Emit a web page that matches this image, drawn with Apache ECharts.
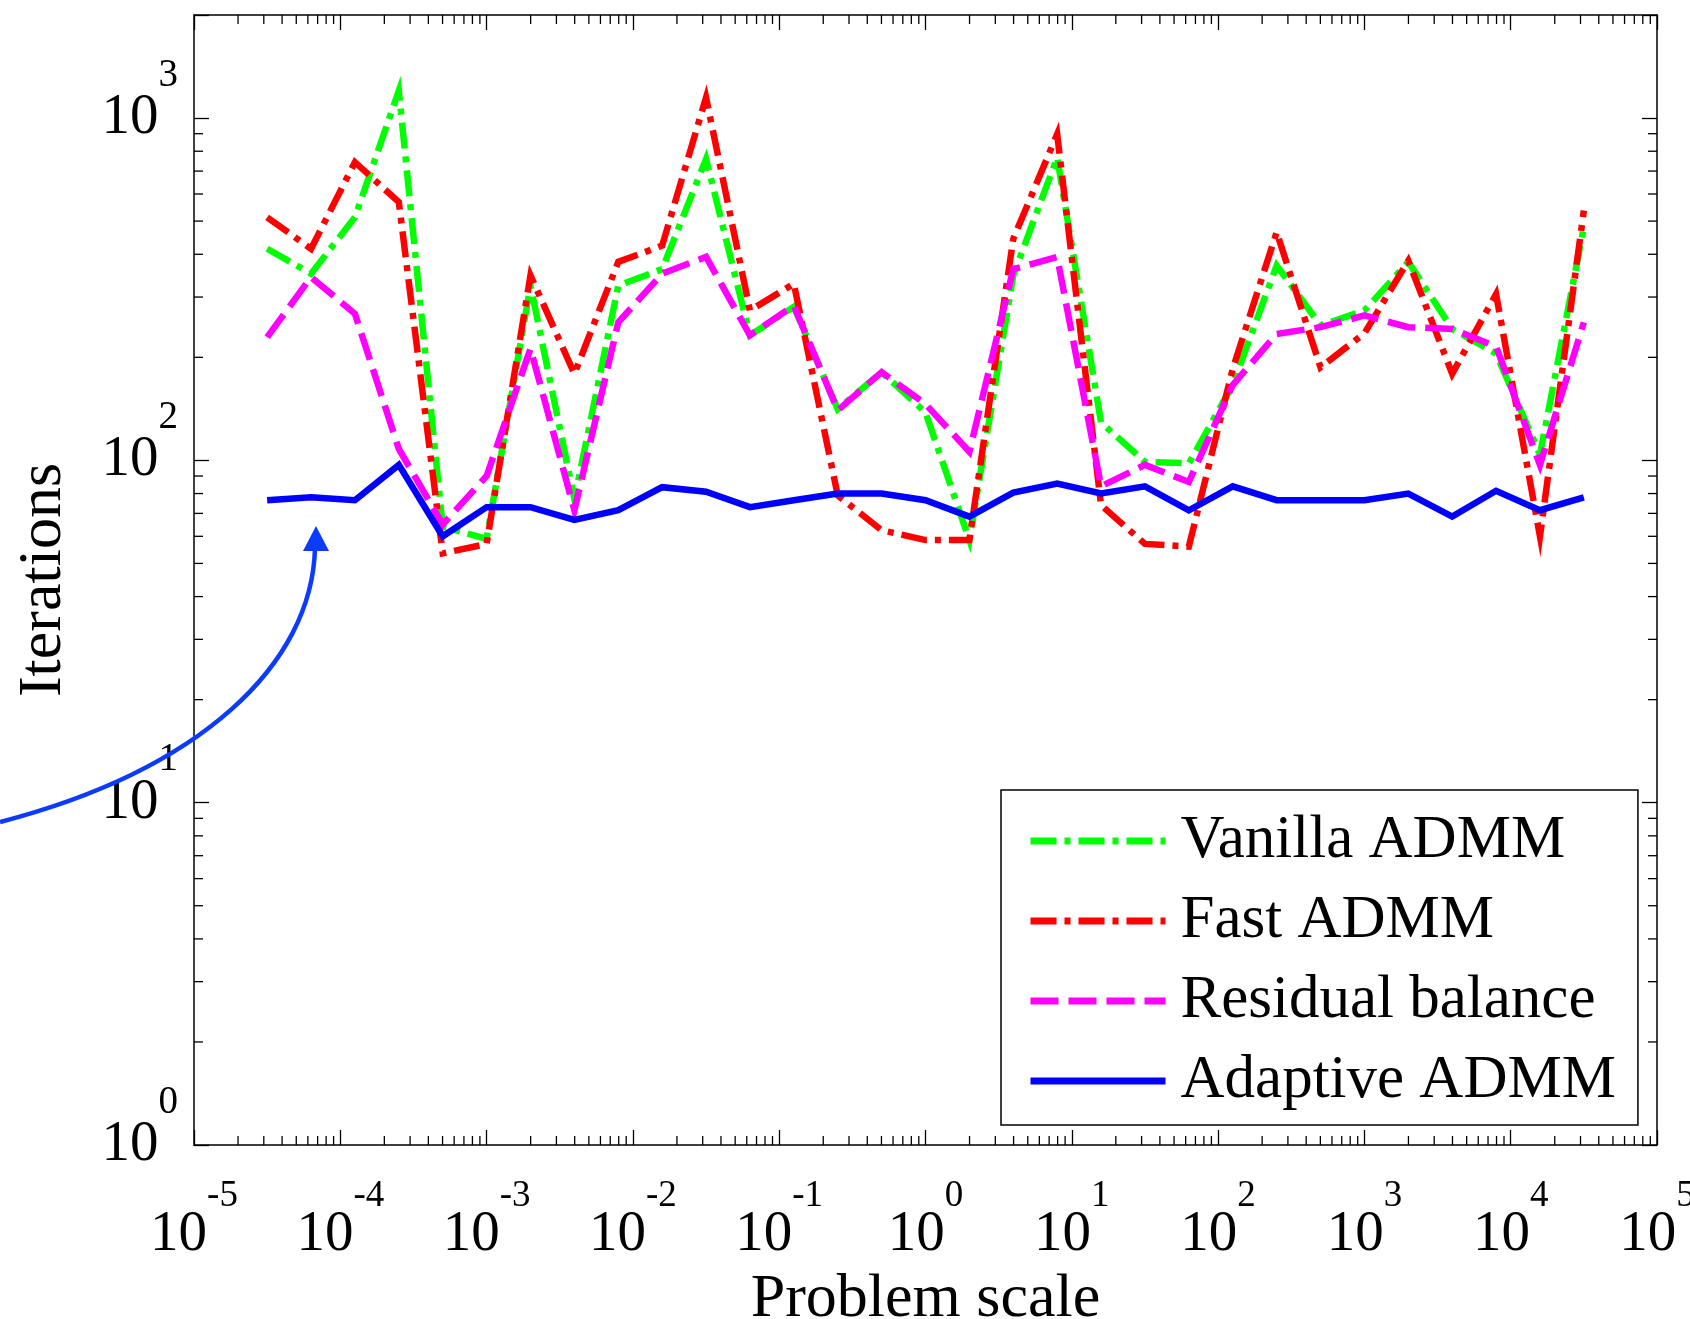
<!DOCTYPE html>
<html>
<head>
<meta charset="utf-8">
<script src="https://cdn.jsdelivr.net/npm/echarts@6/dist/echarts.min.js"></script>
<style>
  html, body { margin: 0; padding: 0; background: #fff; }
  #main { width: 1690px; height: 1319px; }
</style>
</head>
<body>
<div id="main"></div>
<script>
// problem scale of each run (x axis, log)
var scales = [3.162e-5, 6.310e-5, 1.259e-4, 2.512e-4, 5.012e-4, 1.0e-3, 1.995e-3, 3.981e-3,
  7.943e-3, 1.585e-2, 3.162e-2, 6.310e-2, 0.1259, 0.2512, 0.5012, 1.0, 1.995, 3.981, 7.943,
  15.85, 31.62, 63.10, 125.9, 251.2, 501.2, 1000, 1995, 3981, 7943, 15850, 31620];

// iterations per method
var vanilla = [415, 351, 513, 1202, 64, 59, 324, 77, 324, 362, 759, 232, 281, 141, 181, 138,
  58.5, 347, 767, 129, 99, 98, 166, 371, 248, 274, 380, 242, 205, 104, 480];
var fast = [513, 415, 743, 568, 53.5, 57, 347, 179, 380, 424, 1148, 274, 328, 79, 62.5, 58.5,
  58.5, 444, 897, 74, 57, 56, 185, 464, 187, 235, 383, 179, 306, 60, 537];
var residual = [229, 343, 268, 108, 65, 90, 212, 71.5, 253, 351, 393, 232, 283, 140, 181, 146,
  106, 362, 393, 84, 97, 86.5, 166, 234, 245, 265, 245, 242, 215, 97, 253];
var adaptive = [76.5, 78, 76.5, 97, 60, 73, 73, 67, 71.5, 83.5, 81, 73, 76.5, 80, 80, 76.5,
  68.5, 80.5, 85.5, 80, 84, 71.5, 84, 76.5, 76.5, 76.5, 80, 68.5, 81.5, 71.5, 78];

var names = ['Vanilla ADMM', 'Fast ADMM', 'Residual balance', 'Adaptive ADMM'];

// axis ranges and log minor tick steps
var xRange = [1e-5, 1e5];
var yRange = [1, 2000];
var minorSteps = [2, 3, 4, 5, 6, 7, 8, 9];
var xDecades = [-5, -4, -3, -2, -1, 0, 1, 2, 3, 4];
var yDecades = [0, 1, 2, 3];

var FONT = 'Liberation Serif';

function pairs(ys) {
  return scales.map(function (x, i) { return [x, ys[i]]; });
}

var xMinor = [];
xDecades.forEach(function (d) {
  minorSteps.forEach(function (m) { xMinor.push([m * Math.pow(10, d), yRange[0]]); });
});
var yMinor = [];
yDecades.forEach(function (d) {
  minorSteps.forEach(function (m) {
    var v = m * Math.pow(10, d);
    if (v < yRange[1]) yMinor.push([xRange[0], v]);
  });
});

function powLabel(v) {
  var l = Math.log10(v);
  var e = Math.round(l);
  if (Math.abs(l - e) > 1e-6) return '';
  return '{b|10}{e|' + e + '}';
}

var tickStyle = { stroke: '#000', lineWidth: 1.3 };
var MINOR = 9;

var myChart = echarts.init(document.getElementById('main'), null, { renderer: 'canvas' });

var option = {
  animation: false,
  backgroundColor: '#fff',
  grid: { left: 194, right: 33, top: 15, bottom: 174, containLabel: false, outerBoundsMode: 'none' },
  xAxis: [
    {
      type: 'log', logBase: 10, min: xRange[0], max: xRange[1], interval: 1,
      position: 'bottom',
      name: 'Problem scale', nameLocation: 'middle', nameGap: 86,
      nameTextStyle: { fontFamily: FONT, fontSize: 62, color: '#000' },
      axisLine: { show: true, lineStyle: { color: '#000', width: 1.5 } },
      axisTick: { show: true, inside: true, length: 15, lineStyle: { color: '#000', width: 1.3 } },
      splitLine: { show: false },
      axisLabel: {
        margin: 33, formatter: powLabel, color: '#000',
        rich: {
          // both tokens are as tall as the line, so the exponent sits above the base
          b: { fontFamily: FONT, fontSize: 57, color: '#000', padding: [29, 0, 0, 0] },
          e: { fontFamily: FONT, fontSize: 37, color: '#000', padding: [0, 0, 49, 0] }
        }
      }
    },
    {
      type: 'log', logBase: 10, min: xRange[0], max: xRange[1], interval: 1,
      position: 'top',
      axisLine: { show: true, lineStyle: { color: '#000', width: 1.5 } },
      axisTick: { show: true, inside: true, length: 15, lineStyle: { color: '#000', width: 1.3 } },
      axisLabel: { show: false },
      splitLine: { show: false }
    }
  ],
  yAxis: [
    {
      type: 'log', logBase: 10, min: yRange[0], max: yRange[1],
      position: 'left',
      name: 'Iterations', nameLocation: 'middle', nameGap: 119,
      nameTextStyle: { fontFamily: FONT, fontSize: 62, color: '#000' },
      axisLine: { show: true, lineStyle: { color: '#000', width: 1.5 } },
      axisTick: { show: true, inside: true, length: 15, lineStyle: { color: '#000', width: 1.3 } },
      splitLine: { show: false },
      axisLabel: {
        margin: 16, formatter: powLabel, color: '#000',
        rich: {
          b: { fontFamily: FONT, fontSize: 57, lineHeight: 124, color: '#000', verticalAlign: 'middle' },
          e: { fontFamily: FONT, fontSize: 39, color: '#000', verticalAlign: 'top' }
        }
      }
    },
    {
      type: 'log', logBase: 10, min: yRange[0], max: yRange[1],
      position: 'right',
      axisLine: { show: true, lineStyle: { color: '#000', width: 1.5 } },
      axisTick: { show: true, inside: true, length: 15, lineStyle: { color: '#000', width: 1.3 } },
      axisLabel: { show: false },
      splitLine: { show: false }
    }
  ],
  legend: {
    data: names,
    orient: 'vertical',
    left: 1001, top: 790,
    itemWidth: 135, itemHeight: 8, itemGap: 0,
    padding: [11, 22, 4, 26],
    borderColor: '#000', borderWidth: 1.5, borderRadius: 0,
    backgroundColor: '#fff',
    itemStyle: { opacity: 0 },
    lineStyle: { width: 7 },
    textStyle: { fontFamily: FONT, fontSize: 61, lineHeight: 80, color: '#000', padding: [0, 0, 0, 10] }
  },
  graphic: [
    {
      type: 'bezierCurve', silent: true, z: 100,
      shape: { x1: 0, y1: 822, cpx1: 200, cpy1: 770, cpx2: 312, cpy2: 665, x2: 315, y2: 548 },
      style: { stroke: '#0b3bff', lineWidth: 4.5, fill: null }
    },
    {
      type: 'polygon', silent: true, z: 100,
      shape: { points: [[316, 526], [303, 551], [329, 551]] },
      style: { fill: '#0b3bff' }
    }
  ],
  series: [
    {
      name: names[0], type: 'line', data: pairs(vanilla), showSymbol: false, symbol: 'none',
      lineStyle: { color: '#00ff00', width: 6.5, type: [26, 8, 6, 8], cap: 'butt', join: 'miter' },
      itemStyle: { color: '#00ff00' }
    },
    {
      name: names[1], type: 'line', data: pairs(fast), showSymbol: false, symbol: 'none',
      lineStyle: { color: '#ff0000', width: 6.5, type: [26, 8, 6, 8], cap: 'butt', join: 'miter' },
      itemStyle: { color: '#ff0000' }
    },
    {
      name: names[2], type: 'line', data: pairs(residual), showSymbol: false, symbol: 'none',
      lineStyle: { color: '#ff00ff', width: 6.5, type: [28, 10], cap: 'butt', join: 'miter' },
      itemStyle: { color: '#ff00ff' }
    },
    {
      name: names[3], type: 'line', data: pairs(adaptive), showSymbol: false, symbol: 'none',
      lineStyle: { color: '#0000ff', width: 6.5, type: 'solid', join: 'miter' },
      itemStyle: { color: '#0000ff' }
    },
    {
      type: 'custom', silent: true, clip: false, data: xMinor,
      renderItem: function (params, api) {
        var b = api.coord([api.value(0), yRange[0]]);
        var t = api.coord([api.value(0), yRange[1]]);
        return { type: 'group', children: [
          { type: 'line', shape: { x1: b[0], y1: b[1], x2: b[0], y2: b[1] - MINOR }, style: tickStyle },
          { type: 'line', shape: { x1: t[0], y1: t[1], x2: t[0], y2: t[1] + MINOR }, style: tickStyle }
        ] };
      }
    },
    {
      type: 'custom', silent: true, clip: false, data: yMinor,
      renderItem: function (params, api) {
        var l = api.coord([xRange[0], api.value(1)]);
        var r = api.coord([xRange[1], api.value(1)]);
        return { type: 'group', children: [
          { type: 'line', shape: { x1: l[0], y1: l[1], x2: l[0] + MINOR, y2: l[1] }, style: tickStyle },
          { type: 'line', shape: { x1: r[0], y1: r[1], x2: r[0] - MINOR, y2: r[1] }, style: tickStyle }
        ] };
      }
    }
  ]
};

myChart.setOption(option);
</script>
</body>
</html>
